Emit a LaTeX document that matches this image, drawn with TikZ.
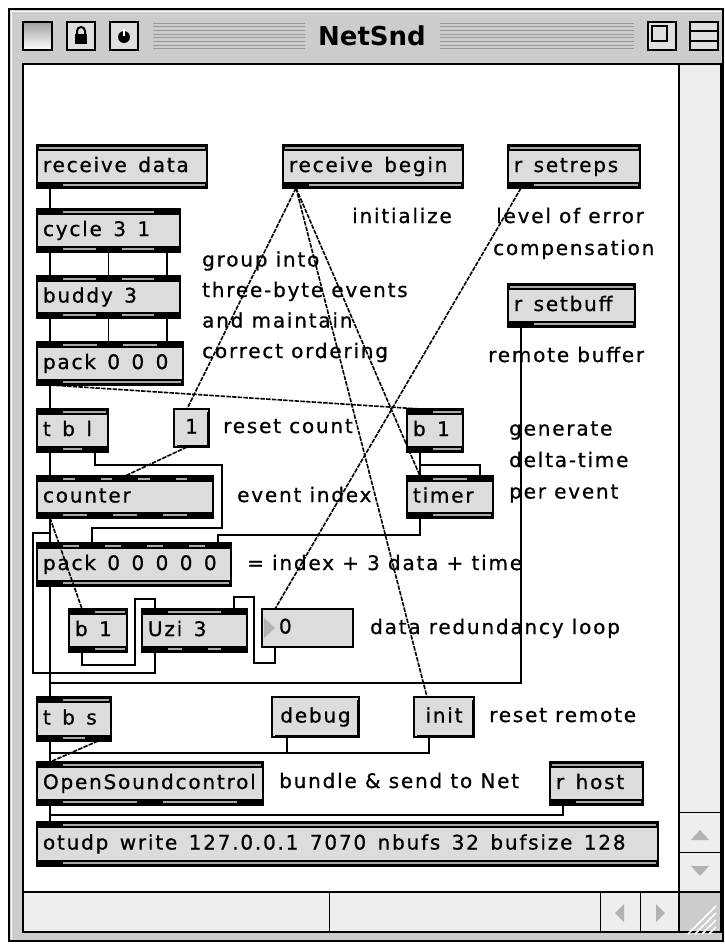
\documentclass[tikz,border=0pt]{standalone}
\usepackage{fontspec}
\setmainfont{DejaVu Sans}[LetterSpace=9, FakeBold=0.8]
\newfontfamily\objfont{DejaVu Sans}[LetterSpace=9, FakeBold=0.8, WordSpace=1.4]
\newfontfamily\titlefont{DejaVu Sans}
\usetikzlibrary{calc}

\definecolor{boxgray}{HTML}{DCDCDC}
\definecolor{framegray}{HTML}{CCCCCC}
\definecolor{bargray}{HTML}{EEEEEE}
\definecolor{bandgray}{HTML}{A8A8A8}

% patcher object: name, left, top, right, bottom, text, inlets, outlets
\newcommand{\maxobj}[8]{%
  \pgfmathsetmacro\boxw{#4-#2-12}%
  \pgfmathsetmacro\boxh{#5-#3}%
  \node[objbox, minimum height=\boxh pt] (#1) at ({(#2+#4)/2},{(#3+#5)/2}) {\makebox[\boxw pt][l]{#6}};
  \fill (#2,#3) rectangle (#4,#3+6);
  \fill (#2,#5-6) rectangle (#4,#5);
  \draw[bandline] (#2+2,#3+3) -- (#4-2,#3+3);
  \draw[bandline] (#2+2,#5-3) -- (#4-2,#5-3);
  \maxports{#2}{#4}{#3}{#7}
  \maxports{#2}{#4}{#5-6}{#8}
}
\newcommand{\maxports}[4]{%
  \ifnum#4>0
    \pgfmathtruncatemacro\lastport{#4-1}%
    \foreach \k in {0,...,\lastport}
      \fill ({#1+\k*(#2-#1-26)/max(#4-1,1)},#3) rectangle ++(26,6);
  \fi}
% message box: name, left, top, right, bottom, text
\newcommand{\msgnode}[6]{%
  \pgfmathsetmacro\boxw{#4-#2}%
  \pgfmathsetmacro\boxh{#5-#3}%
  \node[msgstyle, minimum width=\boxw pt, minimum height=\boxh pt, anchor=north west] (#1) at (#2,#3) {#6};
  \draw[line width=2.4pt] (#4-1,#3+3) -- (#4-1,#5-1) -- (#2+3,#5-1);
}

\begin{document}
\begin{tikzpicture}[x=1pt, y=-1pt]
  \tikzstyle{objbox} = [rectangle, draw, fill=boxgray, line width=1.4pt, inner xsep=6pt, inner ysep=0pt, outer sep=0pt, text height=15pt, text depth=4pt, font=\objfont\fontsize{20}{24}\selectfont]
  \tikzstyle{msgstyle} = [rectangle, draw, fill=boxgray, line width=1.4pt, inner sep=0pt, outer sep=0pt, text height=15pt, text depth=4pt, font=\objfont\fontsize{20}{24}\selectfont]
  \tikzstyle{remark} = [anchor=base west, inner sep=0pt, font=\fontsize{20}{24}\selectfont]
  \tikzstyle{bandline} = [bandgray, line width=1.6pt]
  \tikzstyle{cord} = [line width=1.9pt]
  \tikzstyle{slant} = [line width=1.6pt, dash pattern=on 4.5pt off 1.2pt]

  \useasboundingbox (0,0) rectangle (725,945);

  % window
  \fill[framegray] (9,9) rectangle (723,941);
  \draw[white, line width=1pt] (11,939) -- (11,11) -- (721,11);
  \draw[line width=1.5pt] (9,9) rectangle (723,941);
  \shade[top color=gray!75, bottom color=white] (23,22) rectangle (52,50);
  \draw[line width=1.5pt] (23,22) rectangle (52,50);
  \draw[line width=1.5pt, fill=gray!25] (67,22) rectangle (95,50);
  \fill (75,34) rectangle (87,44);
  \draw[line width=2pt] (77,34) -- (77,31) arc (180:360:4) -- (85,34);
  \draw[line width=1.5pt, fill=gray!25] (110,22) rectangle (138,50);
  \fill (124,37) circle (6);
  \draw[white, line width=2pt] (124,29) -- (124,36);
  \foreach \s in {0,...,7} {
    \draw[gray!80, line width=1pt] (153,23+3.7*\s) -- (305,23+3.7*\s);
    \draw[gray!80, line width=1pt] (440,23+3.7*\s) -- (634,23+3.7*\s);
  }
  \node[font=\titlefont\bfseries\fontsize{26}{30}\selectfont] (title) at (372,36) {NetSnd};
  \draw[line width=1.5pt, fill=gray!25] (648,22) rectangle (676,50);
  \draw[line width=1.2pt] (652,26) rectangle (667,41);
  \draw[line width=1.5pt, fill=gray!25] (690,22) rectangle (718,50);
  \draw[line width=1.2pt] (690,31) -- (718,31) (690,41) -- (718,41);

  \fill[white] (23,64) rectangle (679,892);
  \fill[bargray] (679,64) rectangle (721,892);
  \fill[bargray] (23,892) rectangle (679,932);
  \fill[framegray] (679,892) rectangle (721,939);
  \draw[line width=1.5pt] (23,64) rectangle (721,932);
  \draw[line width=1.2pt] (679,64) -- (679,932) (23,892) -- (721,892);
  \draw[line width=1pt] (679,812) -- (721,812) (679,852) -- (721,852);
  \draw[line width=1pt] (329,892) -- (329,932) (600,892) -- (600,932) (640,892) -- (640,932);
  \fill[gray!60] (691,840) -- (709,840) -- (700,830) -- cycle;
  \fill[gray!60] (691,866) -- (709,866) -- (700,876) -- cycle;
  \fill[gray!60] (624,904) -- (624,922) -- (615,913) -- cycle;
  \fill[gray!60] (656,904) -- (656,922) -- (665,913) -- cycle;
  \foreach \d in {0,7,14,21}
    \draw[white, line width=1.5pt] (688+\d,934) -- (716,906+\d);

  % objects
  \maxobj{rdata}{37}{145}{207}{188}{receive data}{0}{1}
  \maxobj{rbegin}{283}{145}{463}{188}{receive begin}{0}{1}
  \maxobj{rsetreps}{508}{145}{640}{188}{r setreps}{0}{1}
  \maxobj{cycle}{37}{209}{180}{252}{cycle 3 1}{2}{3}
  \maxobj{buddy}{37}{276}{180}{318}{buddy 3}{3}{3}
  \maxobj{packa}{37}{342}{183}{385}{pack 0 0 0}{3}{1}
  \maxobj{rsetbuff}{508}{284}{635}{327}{r setbuff}{0}{1}
  \maxobj{tbl}{37}{409}{108}{452}{t b l}{1}{2}
  \msgnode{reset}{174}{409}{209}{447}{1}
  \maxobj{bangr}{407}{409}{463}{452}{b 1}{1}{1}
  \maxobj{counter}{37}{476}{213}{518}{counter}{5}{4}
  \maxobj{timer}{407}{476}{493}{518}{timer}{2}{1}
  \maxobj{packb}{37}{543}{231}{586}{pack 0 0 0 0 0}{5}{1}
  \maxobj{bangl}{69}{609}{127}{652}{b 1}{1}{1}
  \maxobj{uzi}{142}{609}{247}{652}{Uzi 3}{2}{3}
  \node[msgstyle, minimum width=91pt, minimum height=38pt, text width=57pt, inner xsep=17pt, align=left, anchor=north west] (reps) at (262,609) {0};
  \fill[gray!60] (264,618) -- (275,628) -- (264,638) -- cycle;
  \maxobj{tbs}{37}{697}{111}{741}{t b s}{1}{2}
  \msgnode{debug}{272}{697}{359}{737}{debug}
  \msgnode{init}{414}{697}{474}{737}{init}
  \maxobj{osc}{37}{762}{263}{805}{OpenSoundcontrol}{1}{3}
  \maxobj{rhost}{550}{762}{643}{805}{r host}{0}{1}
  \maxobj{otudp}{37}{822}{658}{866}{otudp write 127.0.0.1 7070 nbufs 32 bufsize 128}{1}{1}

  % comments
  \node[remark] (initc) at (352,223) {initialize};
  \node[remark] (errc1) at (496,223) {level of error};
  \node[remark] (errc2) at (493,255) {compensation};
  \foreach \txt [count=\i] in {group into, three-byte events, and maintain, correct ordering}
    \node[remark] (group\i) at (202,236+30.5*\i) {\txt};
  \node[remark] (bufc) at (488,362) {remote buffer};
  \node[remark] (countc) at (223,433) {reset count};
  \foreach \txt [count=\i] in {generate, delta-time, per event}
    \node[remark] (delta\i) at (509,404+31.5*\i) {\txt};
  \node[remark] (indexc) at (237,502) {event index};
  \node[remark] (packc) at (247,570) {= index + 3 data + time};
  \node[remark] (loopc) at (370,634) {data redundancy loop};
  \node[remark] (initr) at (489,722) {reset remote};
  \node[remark] (sendc) at (279,788) {bundle \& send to Net};

  % patch cords
  \draw[cord] ([xshift=13]rdata.south west) -- ([xshift=13]cycle.north west);
  \foreach \o in {13,71.5,130} {
    \draw[cord] ([xshift=\o]cycle.south west) -- ([xshift=\o]buddy.north west);
    \draw[cord] ([xshift=\o]buddy.south west) -- ([xshift=\o]packa.north west);
  }
  \draw[cord] ([xshift=13]packa.south west) -- ([xshift=13]tbl.north west);
  \draw[slant] ([xshift=13]packa.south west) -- ([xshift=13]bangr.north west);
  \draw[slant] ([xshift=13]rbegin.south west) -- ([xshift=13]reset.north west);
  \draw[slant] ([xshift=13]rbegin.south west) -- ([xshift=13]timer.north west);
  \draw[slant] ([xshift=13]rbegin.south west) -- ([xshift=13]init.north west);
  \draw[slant] ([xshift=13]rsetreps.south west) -- ([xshift=13]reps.north west);
  \draw[cord] ([xshift=13]rsetbuff.south west) -- ++(0,356) -| ([xshift=13]tbs.north west);
  \draw[cord] ([xshift=13]tbl.south west) -- ([xshift=13]counter.north west);
  \draw[cord] ([xshift=58]tbl.south west) -- ++(0,13) -- ++(127,0) -- ++(0,63) -| ([xshift=55]packb.north west);
  \draw[slant] ([xshift=13]reset.south west) -- ([xshift=88]counter.north west);
  \draw[cord] ([xshift=13]counter.south west) -- ([xshift=13]packb.north west);
  \draw[slant] ([xshift=13]counter.south west) -- ([xshift=13]bangl.north west);
  \draw[cord] ([xshift=13]bangr.south west) -- ([xshift=13]timer.north west);
  \draw[cord] ([xshift=13]bangr.south west) -- ++(0,13) -| ([xshift=73]timer.north west);
  \draw[cord] ([xshift=13]timer.south west) -- ++(0,17) -| ([xshift=181]packb.north west);
  \draw[cord] ([xshift=13]packb.south west) -- ([xshift=13]tbs.north west);
  \draw[cord] ([xshift=13]bangl.south west) -- ++(0,13) -- ++(53,0) -- ++(0,-66) -| ([xshift=13]uzi.north west);
  \draw[cord] ([xshift=13]uzi.south west) -- ++(0,21) -- ++(-122,0) -- ++(0,-140) -| ([xshift=13]packb.north west);
  \draw[cord] ([xshift=13]reps.south west) -- ++(0,16) -- ++(-21,0) -- ++(0,-66) -| ([xshift=92]uzi.north west);
  \draw[cord] ([xshift=13]tbs.south west) -- ([xshift=13]osc.north west);
  \draw[slant] ([xshift=61]tbs.south west) -- ([xshift=13]osc.north west);
  \draw[cord] ([xshift=15]debug.south west) -- ++(0,16) -| ([xshift=13]osc.north west);
  \draw[cord] ([xshift=15]init.south west) -- ++(0,16) -| ([xshift=13]osc.north west);
  \draw[cord] ([xshift=13]osc.south west) -- ([xshift=13]otudp.north west);
  \draw[cord] ([xshift=13]rhost.south west) -- ++(0,10) -| ([xshift=13]otudp.north west);
\end{tikzpicture}
\end{document}
